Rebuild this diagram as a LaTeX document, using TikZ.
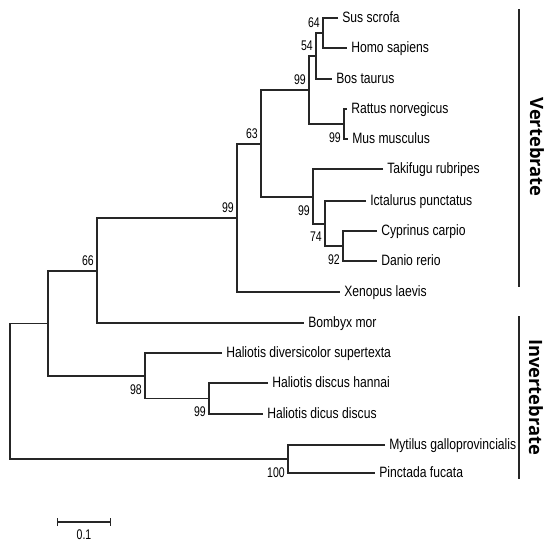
\documentclass[tikz,border=0pt]{standalone}
\usepackage{fontspec}
\newfontfamily\taxafont[FakeStretch=0.81]{Liberation Sans}
\newfontfamily\bootfont[FakeStretch=0.75]{Liberation Sans}
\newfontfamily\groupfont{Open Sans}
\usepackage{tikz}
\usetikzlibrary{arrows.meta}
\usetikzlibrary{positioning}

\begin{document}
\begin{tikzpicture}[x=0.75pt, y=-0.75pt,
        branch/.style={line width=1pt, black!85},
        leaf/.style={anchor=west, inner xsep=3pt, inner ysep=0pt, text height=0.72em,
                text depth=0pt, font=\taxafont\fontsize{11.25}{13}\selectfont},
        boot/.style={inner sep=0pt, font=\bootfont\fontsize{10.5}{12}\selectfont},
        group/.style={rotate=-90, font=\groupfont\bfseries\fontsize{13.75}{16}\selectfont},
        bar/.style={line width=1.4pt, black!85},
    ]
    \useasboundingbox (0,0) rectangle (547,544);

    % internal nodes
    \coordinate (n64) at (323,33);
    \coordinate (n54) at (316,56);
    \coordinate (n99_mam) at (309,90);
    \coordinate (n99_rod) at (344,124);
    \coordinate (n63) at (261,144);
    \coordinate (n99_fish) at (313,197);
    \coordinate (n74) at (325,224);
    \coordinate (n92) at (343,246);
    \coordinate (n99_vert) at (237,218);
    \coordinate (n66) at (97,271);
    \coordinate (n_rest) at (48,323.5);
    \coordinate (n98) at (145,376);
    \coordinate (n99_hal) at (209,398.5);
    \coordinate (n100) at (288,459);
    \coordinate (root) at (10,391);

    % taxa
    \node[leaf] (sus_scrofa) at (338,18) {Sus scrofa};
    \node[leaf] (homo_sapiens) at (347,48) {Homo sapiens};
    \node[leaf] (bos_taurus) at (332,79) {Bos taurus};
    \node[leaf] (rattus) at (347,109) {Rattus norvegicus};
    \node[leaf] (mus) at (348,139) {Mus musculus};
    \node[leaf] (takifugu) at (383,169) {Takifugu rubripes};
    \node[leaf] (ictalurus) at (366,201) {Ictalurus punctatus};
    \node[leaf] (cyprinus) at (377,231) {Cyprinus carpio};
    \node[leaf] (danio) at (377,261) {Danio rerio};
    \node[leaf] (xenopus) at (340,292) {Xenopus laevis};
    \node[leaf] (bombyx) at (304,323) {Bombyx mor};
    \node[leaf] (haliotis_div) at (222,353) {Haliotis diversicolor supertexta};
    \node[leaf] (haliotis_han) at (268,383) {Haliotis discus hannai};
    \node[leaf] (haliotis_dis) at (263,414) {Haliotis dicus discus};
    \node[leaf] (mytilus) at (385,445) {Mytilus galloprovincialis};
    \node[leaf] (pinctada) at (375,473) {Pinctada fucata};

    % branches
    \draw[branch] (sus_scrofa.west) -| (n64) |- (homo_sapiens.west);
    \draw[branch] (n64) -| (n54) |- (bos_taurus.west);
    \draw[branch] (n54) -| (n99_mam) |- (n99_rod);
    \draw[branch] (rattus.west) -| (n99_rod) |- (mus.west);
    \draw[branch] (n99_mam) -| (n63) |- (n99_fish);
    \draw[branch] (takifugu.west) -| (n99_fish) |- (n74);
    \draw[branch] (ictalurus.west) -| (n74) |- (n92);
    \draw[branch] (cyprinus.west) -| (n92) |- (danio.west);
    \draw[branch] (n63) -| (n99_vert) |- (xenopus.west);
    \draw[branch] (n99_vert) -| (n66) |- (bombyx.west);
    \draw[branch] (n66) -| (n_rest) |- (n98);
    \draw[branch] (haliotis_div.west) -| (n98) |- (n99_hal);
    \draw[branch] (haliotis_han.west) -| (n99_hal) |- (haliotis_dis.west);
    \draw[branch] (mytilus.west) -| (n100) |- (pinctada.west);
    \draw[branch] (n_rest) -| (root) |- (n100);

    % bootstrap values
    \node[boot, above left=3.75pt and 2.25pt of n64] (bs_n64) {64};
    \node[boot, above left=3.75pt and 2.25pt of n54] (bs_n54) {54};
    \node[boot, above left=3.75pt and 2.25pt of n99_mam] (bs_n99_mam) {99};
    \node[boot, above left=3.75pt and 2.25pt of n63] (bs_n63) {63};
    \node[boot, above left=3.75pt and 2.25pt of n99_vert] (bs_n99_vert) {99};
    \node[boot, above left=3.75pt and 2.25pt of n66] (bs_n66) {66};
    \node[boot, below left=6pt and 2.25pt of n99_rod] (bs_n99_rod) {99};
    \node[boot, below left=6pt and 2.25pt of n99_fish] (bs_n99_fish) {99};
    \node[boot, below left=6pt and 2.25pt of n74] (bs_n74) {74};
    \node[boot, below left=6pt and 2.25pt of n92] (bs_n92) {92};
    \node[boot, below left=6pt and 2.25pt of n98] (bs_n98) {98};
    \node[boot, below left=6pt and 2.25pt of n99_hal] (bs_n99_hal) {99};
    \node[boot, below left=6pt and 2.25pt of n100] (bs_n100) {100};

    % groups
    \coordinate (vert_top) at (519,9);
    \coordinate (vert_bot) at (519,287);
    \coordinate (invert_top) at (519,316);
    \coordinate (invert_bot) at (519,479);
    \draw[bar] (vert_top) -- (vert_bot);
    \draw[bar] (invert_top) -- (invert_bot);
    \node[group] (vert_label) at (537,147) {Vertebrate};
    \node[group] (invert_label) at (536,397) {Invertebrate};

    % scale bar
    \coordinate (scale_left) at (57,522);
    \coordinate (scale_right) at (111,522);
    \draw[branch, {Bar[width=6pt]}-{Bar[width=6pt]}] (scale_left) -- (scale_right);
    \node[boot] (scale_label) at (84,535) {0.1};
\end{tikzpicture}
\end{document}
